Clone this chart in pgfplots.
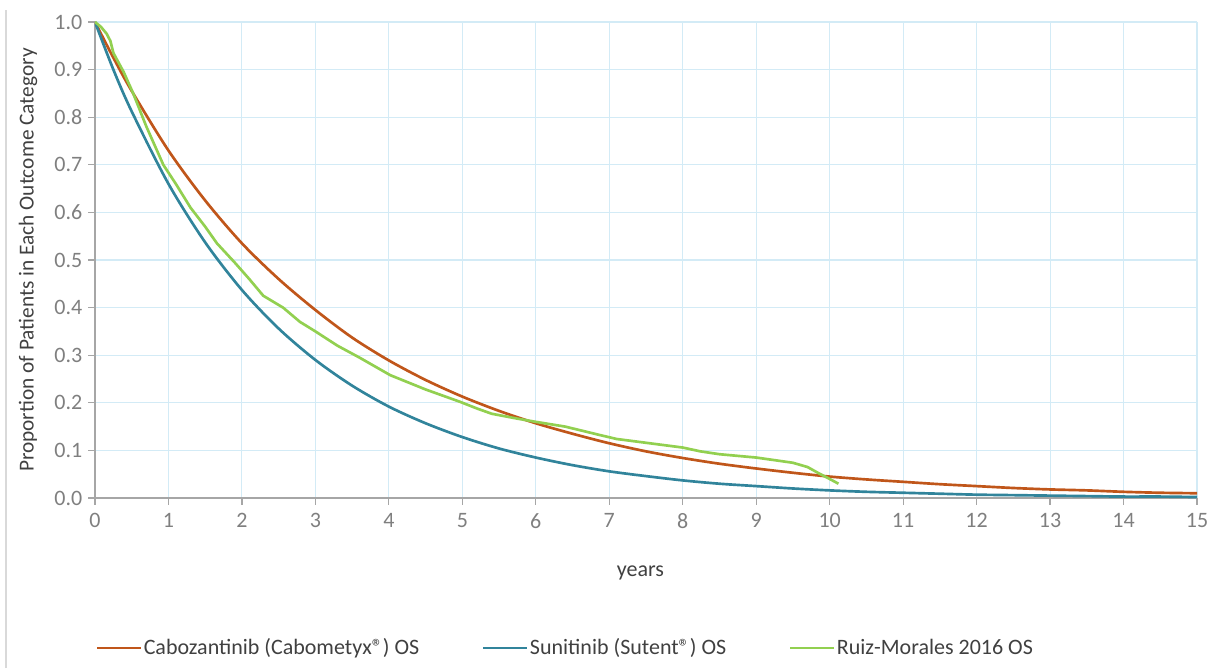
\documentclass[border=0pt]{standalone}
\usepackage{pgfplots}
\pgfplotsset{compat=1.18}
\usepackage{fontspec}
\setmainfont{Carlito}
\definecolor{cabo}{HTML}{C0561A}
\definecolor{suni}{HTML}{31849B}
\definecolor{ruiz}{HTML}{92D050}
\definecolor{gridc}{HTML}{D3EBF6}
\definecolor{axc}{HTML}{A6A6A6}
\definecolor{tickc}{HTML}{7F7F7F}
\definecolor{txt}{HTML}{404040}
\begin{document}
\begin{tikzpicture}
\useasboundingbox (-71.25pt,-127.5pt) rectangle (838.5pt,373.5pt);
\draw[color=black!15, line width=0.8pt] (-66.75pt,-127.5pt) -- (-66.75pt,366pt);
\begin{axis}[
  scale only axis,
  width=826.5pt, height=357pt,
  xmin=0, xmax=15, ymin=0, ymax=1,
  xtick={0,1,...,15},
  ytick={0,0.1,...,1.0},
  axis lines*=left,
  axis line style={axc, line width=0.9pt},
  grid=major,
  major grid style={gridc, line width=0.8pt},
  tick style={axc, line width=0.9pt},
  tick align=outside,
  major tick length=5pt,
  tick label style={font=\fontsize{16.5}{19}\selectfont, text=tickc},
  /pgf/number format/assume math mode=true,
  yticklabel style={/pgf/number format/fixed, /pgf/number format/fixed zerofill, /pgf/number format/precision=1, xshift=-1pt},
  xticklabel style={yshift=-3pt},
  ylabel={Proportion of Patients in Each Outcome Category},
  xlabel={years},
  every axis y label/.style={at={(axis description cs:-0.0608,0.5)}, rotate=90, anchor=center, font=\fontsize{16}{19}\selectfont, text=txt},
  every axis x label/.style={at={(axis description cs:0.495,-0.1576)}, anchor=center, font=\fontsize{16.5}{19}\selectfont, text=txt},
  legend columns=3,
  legend style={draw=none, fill=none, at={(axis description cs:0.4265,-0.315)}, anchor=center,
    font=\fontsize{16.5}{19}\selectfont, text=txt, nodes={inner xsep=1pt},
    /tikz/every odd column/.append style={column sep=0pt},
    /tikz/every even column/.append style={column sep=46pt}},
  legend image code/.code={\draw[#1, line width=2pt] (0pt,0pt) -- (33pt,0pt);},
  legend cell align=left,
]
\addplot[cabo, line width=2pt, smooth] coordinates {
(0,1.0) (0.25,0.925) (0.5,0.855) (1,0.73) (1.5,0.625) (2,0.535) (2.5,0.46) (3,0.395) (3.5,0.337) (4,0.289) (4.5,0.248) (5,0.213) (5.5,0.183) (6,0.157) (6.5,0.135) (7,0.115) (7.5,0.098) (8,0.084) (8.5,0.072) (9,0.062) (9.5,0.053) (10,0.045) (10.5,0.039) (11,0.034) (11.5,0.029) (12,0.025) (12.5,0.021) (13,0.018) (13.5,0.016) (14,0.013) (14.5,0.011) (15,0.01)
};
\addlegendentry{Cabozantinib (Cabometyx®) OS}
\addplot[suni, line width=2pt, smooth] coordinates {
(0,1.0) (0.25,0.9) (0.5,0.812) (1,0.66) (1.5,0.537) (2,0.437) (2.5,0.356) (3,0.29) (3.5,0.236) (4,0.192) (4.5,0.157) (5,0.128) (5.5,0.104) (6,0.085) (6.5,0.069) (7,0.056) (7.5,0.046) (8,0.037) (8.5,0.030) (9,0.025) (9.5,0.020) (10,0.016) (10.5,0.013) (11,0.011) (11.5,0.009) (12,0.007) (12.5,0.006) (13,0.005) (13.5,0.004) (14,0.003) (14.5,0.003) (15,0.002)
};
\addlegendentry{Sunitinib (Sutent®) OS}
\addplot[ruiz, line width=2pt] coordinates {
(0,1.0) (0.08,0.99) (0.16,0.975) (0.21,0.96) (0.25,0.935) (0.32,0.915) (0.39,0.895) (0.52,0.85) (0.7,0.78) (0.93,0.70) (1.1,0.66) (1.3,0.61) (1.5,0.57) (1.66,0.535) (1.9,0.495) (2.1,0.46) (2.29,0.425) (2.56,0.40) (2.79,0.37) (3,0.35) (3.3,0.32) (3.6,0.295) (4.02,0.258) (4.5,0.228) (4.97,0.202) (5.2,0.188) (5.4,0.177) (5.74,0.167) (6,0.16) (6.4,0.15) (6.88,0.132) (7.1,0.124) (7.5,0.116) (8,0.106) (8.24,0.098) (8.5,0.092) (9,0.085) (9.5,0.074) (9.7,0.065) (9.85,0.052) (10,0.04) (10.12,0.03)
};
\addlegendentry{Ruiz-Morales 2016 OS}
\end{axis}
\end{tikzpicture}
\end{document}
